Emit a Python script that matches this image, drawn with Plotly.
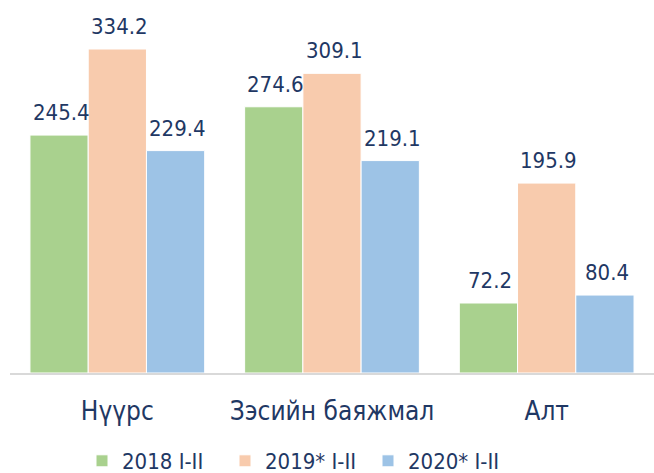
import plotly.graph_objects as go

categories = ["Нүүрс", "Зэсийн баяжмал", "Алт"]
series_names = ["2018 I-II", "2019* I-II", "2020* I-II"]
v2018 = [245.4, 274.6, 72.2]
v2019 = [334.2, 309.1, 195.9]
v2020 = [229.4, 219.1, 80.4]
colors = ["#A9D18E", "#F8CBAD", "#9DC3E6"]

W, H = 654, 473
base_y = 373
left, right = 10, 0
px_per_unit = (373 - 49) / 334.2
top_margin = 8
plot_h = base_y - top_margin
plot_w = W - left - right
ymax = plot_h / px_per_unit
bargap = 0.186
cat_px = plot_w / len(categories)
bar_px = cat_px * (1 - bargap) / 3

label_color = "#1F3864"
FONT = "DejaVu Sans Condensed, DejaVu Sans"
lab_font = dict(family=FONT, size=22, color=label_color)
fig = go.Figure()
for i, (name, vals, col) in enumerate(zip(series_names, [v2018, v2019, v2020], colors)):
    fig.add_trace(go.Bar(
        name=name, x=categories, y=vals,
        marker=dict(color=col, line=dict(color="white", width=1)),
    ))
    for c, v in zip(categories, vals):
        fig.add_annotation(x=c, y=v, xref="x", yref="y", text=f"{v:.1f}",
                           showarrow=False, yanchor="bottom", xanchor="center",
                           xshift=(i - 1) * bar_px + 2, yshift=8, font=lab_font)

fig.update_layout(
    width=W, height=H,
    barmode="group", bargap=bargap, bargroupgap=0,
    plot_bgcolor="white", paper_bgcolor="white",
    margin=dict(l=left, r=right, t=top_margin, b=H - base_y, autoexpand=False),
    xaxis=dict(showline=True, linecolor="#D9D9D9", linewidth=2, ticks="", automargin=False,
               tickfont=dict(family=FONT, size=26, color=label_color),
               ticklabelstandoff=14),
    yaxis=dict(range=[0, ymax], visible=False, showgrid=False, automargin=False),
    legend=dict(orientation="h", x=(82 - left) / plot_w, xanchor="left",
                y=-88 / plot_h, yanchor="middle",
                font=dict(family=FONT, size=22, color=label_color),
                itemwidth=30, entrywidth=98, traceorder="normal"),
    showlegend=True,
)
fig.write_html("out.html", config={"displayModeBar": False},
               post_script="document.body.style.margin='0';document.body.style.overflow='hidden';")
